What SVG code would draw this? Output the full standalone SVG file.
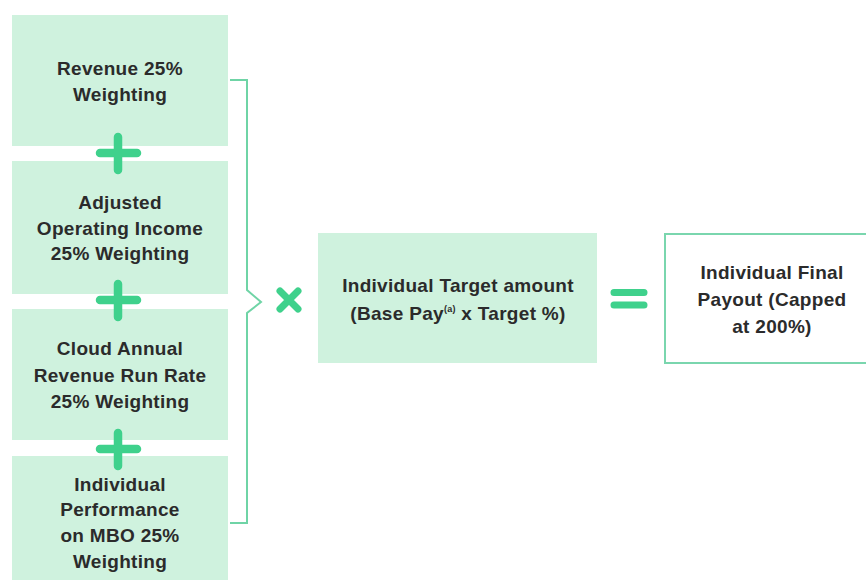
<svg xmlns="http://www.w3.org/2000/svg" width="866" height="580" viewBox="0 0 866 580">
<style>
.box{fill:#cff2de;}
.out{fill:#ffffff;stroke:#7ad6ae;stroke-width:2;}
.t{font-family:"Liberation Sans",Arial,Helvetica,sans-serif;font-weight:bold;font-size:19px;letter-spacing:0.3px;fill:#2b2b2b;text-anchor:middle;}
.op{fill:none;stroke:#3fd18c;stroke-linecap:round;}
.br{fill:none;stroke:#6fd4a6;stroke-width:2;}
</style>
<rect width="866" height="580" fill="#ffffff"/>
<g id="revenue">
<rect class="box" x="12" y="15" width="216" height="131"/>
<text class="t" x="120" y="75">Revenue 25%</text>
<text class="t" x="120" y="101">Weighting</text>
</g>
<g id="adjusted-operating-income">
<rect class="box" x="12" y="161" width="216" height="133"/>
<text class="t" x="120" y="209">Adjusted</text>
<text class="t" x="120" y="235">Operating Income</text>
<text class="t" x="120" y="260">25% Weighting</text>
</g>
<g id="cloud-arr">
<rect class="box" x="12" y="309" width="216" height="131"/>
<text class="t" x="120" y="355">Cloud Annual</text>
<text class="t" x="120" y="382">Revenue Run Rate</text>
<text class="t" x="120" y="408">25% Weighting</text>
</g>
<g id="individual-performance">
<rect class="box" x="12" y="456" width="216" height="124"/>
<text class="t" x="120" y="491">Individual</text>
<text class="t" x="120" y="516">Performance</text>
<text class="t" x="120" y="542">on MBO 25%</text>
<text class="t" x="120" y="568">Weighting</text>
</g>
<g id="target-amount">
<rect class="box" x="318" y="233" width="279" height="130"/>
<text class="t" x="458" y="292">Individual Target amount</text>
<text class="t" x="458" y="320">(Base Pay<tspan font-size="9" dy="-8">(a)</tspan><tspan dy="8"> x Target %)</tspan></text>
</g>
<g id="final-payout">
<rect class="out" x="665" y="234" width="210" height="129"/>
<text class="t" x="772" y="279">Individual Final</text>
<text class="t" x="772" y="306">Payout (Capped</text>
<text class="t" x="772" y="333">at 200%)</text>
</g>
<g id="connectors">
<path class="op" stroke-width="8.5" d="M100 153H137M118 137V170"/>
<path class="op" stroke-width="8.5" d="M100 300H137M118 284V317"/>
<path class="op" stroke-width="8.5" d="M100 449H137M118 433V466"/>
<path class="br" d="M230 80H247V290L261 302L247 313V523H230"/>
<path class="op" stroke-width="7" d="M280 291L298 309M298 291L280 309"/>
<path class="op" stroke-width="7" d="M614 292.5H644M614 305H644"/>
</g>
</svg>
